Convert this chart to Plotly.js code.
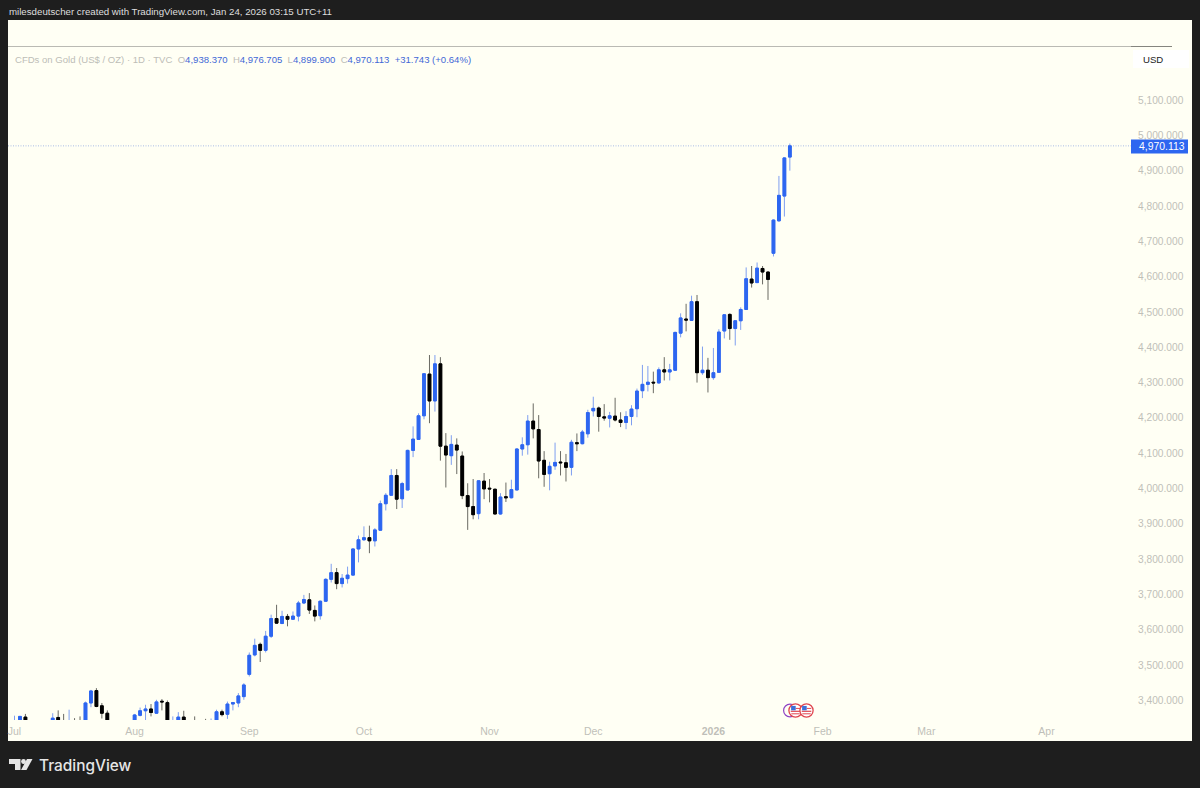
<!DOCTYPE html>
<html><head><meta charset="utf-8">
<script src="https://cdn.plot.ly/plotly-3.0.1.min.js"></script>
<style>html,body{margin:0;padding:0;background:#1e1e1e}#c{width:1200px;height:788px}</style>
</head><body><div id="c"></div>
<script>
const opens = [
3335,3340,3353,null,null,null,null,3340,3352,3340,3335,3335,3335,3340,3393,3428,3385,3364,null,null,null,null,
3340,3358,3371,3376,3364,3398,3394,3335,3340,3353,null,3340,null,3340,3335,3342,3368,3361,3390,3393,3411,
3474,3529,3559,3542,3582,3632,3618,3638,3630,3639,
3676,3685,3655,3640,3681,3743,3762,3731,3745,3755,
3829,3855,3861,3852,3882,3957,3981,4037,3971,3996,
4108,4139,4206,4324,4248,4353,4120,4093,4123,4092,
3980,3949,3929,4021,4001,3998,3928,3977,3974,3996,
4112,4124,4191,4167,4080,4042,4064,4075,4073,4060,
4130,4127,4155,4220,4228,4203,4199,4205,4194,4187,
4204,4226,4277,4295,4301,4299,4336,4330,4335,4440,
4480,4476,4529,4328,4335,4314,4329,4446,4493,4453,
4475,4507,4593,4583,4623,4613,4666,4758,4828,4938.37];
const highs = [
3357,3356,3362,null,null,null,null,3364,3372,3362,3374,3350,3355,3397,3430,3435,3393,3372,null,null,null,null,
3362,3380,3388,3390,3402,3404,3400,3355,3367,3371,null,3355,null,3348,3349,3374,3374,3397,3396,3421,3449,
3536,3575,3564,3597,3643,3671,3654,3645,3652,3682,
3699,3704,3669,3683,3746,3787,3775,3758,3779,3831,
3867,3893,3895,3888,3966,3987,4055,4055,4019,4110,
4176,4213,4327,4378,4378,4372,4157,4151,4142,4105,
4015,4027,4024,4044,4027,4000,3987,4017,4025,4114,
4145,4208,4241,4208,4106,4076,4130,4106,4098,4138,
4156,4166,4223,4260,4232,4239,4217,4257,4216,4219,
4236,4283,4350,4347,4331,4343,4372,4353,4444,4496,
4523,4546,4548,4402,4370,4398,4451,4494,4496,4477,
4513,4626,4630,4640,4630,4614,4762,4885,4938,4976.705];
const lows = [
3325,3330,3330,null,null,null,null,3330,3330,3325,3325,3325,3320,3330,3381,3381,3349,3330,null,null,null,null,
3330,3355,3340,3355,3362,3372,3335,3325,3330,3330,null,3325,null,3330,3330,3335,3355,3348,3372,3381,3402,
3468,3525,3509,3536,3577,3618,3616,3610,3628,3624,
3673,3645,3624,3629,3680,3734,3715,3720,3731,3753,
3791,3852,3817,3836,3881,3938,3980,3942,3945,3995,
4089,4138,4196,4185,4218,4079,4003,4067,4041,3970,
3883,3913,3913,3970,3961,3927,3926,3962,3972,3995,
4093,4096,4142,4029,4005,3995,4053,4037,4020,4037,
4106,4125,4144,4204,4161,4192,4173,4190,4174,4168,
4179,4202,4256,4275,4270,4297,4306,4306,4334,4428,
4445,4475,4300,4322,4272,4308,4328,4425,4421,4405,
4449,4506,4569,4582,4578,4534,4657,4755,4770,4899.9];
const closes = [
3340,3355,3340,null,null,null,null,3350,3340,3335,3340,3330,3330,3393,3427,3383,3364,3340,null,null,null,null,
3359,3371,3376,3366,3396,3396,3340,3340,3353,3340,null,3330,null,3335,3340,3368,3360,3390,3394,3413,3444,
3528,3556,3542,3582,3632,3619,3638,3630,3639,3676,
3686,3656,3639,3681,3743,3762,3731,3746,3755,3829,
3855,3861,3852,3883,3957,3981,4037,3970,4014,4108,
4140,4206,4325,4248,4353,4120,4095,4125,4109,3980,
3949,3926,4022,3999,3999,3928,3976,3974,3997,4112,
4124,4191,4169,4078,4040,4063,4074,4073,4060,4131,
4127,4160,4215,4227,4204,4200,4206,4194,4187,4204,
4225,4276,4295,4301,4299,4336,4330,4336,4442,4483,
4477,4529,4328,4335,4314,4328,4443,4492,4453,4475,
4507,4594,4582,4624,4613,4592,4760,4830,4936,4970.113];
const priceTicks = [3400,3500,3600,3700,3800,3900,4000,4100,4200,4300,4400,4500,4600,4700,4800,4900,5000,5100];
const timeTickIndex = [0,22,43,64,87,106,128,148,167,189];
const timeTickLabels = ['Jul','Aug','Sep','Oct','Nov','Dec','<b>2026</b>','Feb','Mar','Apr'];
const lastPrice = 4970.113;

const BLUE = '#2d66f0', BLACK = '#000000', CREAM = '#fffff4', DARK = '#1e1e1e', GREY = '#bfbfb9';
const FONT = '"Liberation Sans", Arial, sans-serif';
const PL = 8, PR = 1131, PT = 47, PB = 720;
const fx = x => (x - PL) / (PR - PL);
const fy = y => (PB - y) / (PB - PT);
const idx = opens.map((_, i) => i);
const bodyHi = opens.map((o, i) => o === null ? null : Math.max(o, closes[i]));
const bodyLo = opens.map((o, i) => o === null ? null : Math.min(o, closes[i]));

const wickTrace = {
  type: 'candlestick', x: idx, open: opens, high: highs, low: lows, close: closes,
  whiskerwidth: 0, hoverinfo: 'skip', showlegend: false,
  increasing: {line: {color: '#7f9ff0', width: 1}, fillcolor: BLUE},
  decreasing: {line: {color: '#6a6a63', width: 1}, fillcolor: BLACK}
};
const bodyTrace = {
  type: 'candlestick', x: idx, open: opens, high: bodyHi, low: bodyLo, close: closes,
  whiskerwidth: 0, hoverinfo: 'skip', showlegend: false,
  increasing: {line: {color: BLUE, width: 1}, fillcolor: BLUE},
  decreasing: {line: {color: BLACK, width: 1}, fillcolor: BLACK}
};

function rect(x0, y0, x1, y1, fill, layer) {
  return {type: 'rect', xref: 'paper', yref: 'paper', x0: fx(x0), x1: fx(x1), y0: fy(y0), y1: fy(y1),
          fillcolor: fill, line: {width: 0}, layer: layer || 'above'};
}
function hline(x0, x1, y, color, w) {
  return {type: 'line', xref: 'paper', yref: 'paper', x0: fx(x0), x1: fx(x1), y0: fy(y), y1: fy(y),
          line: {color, width: w}, layer: 'above'};
}
function circle(cx, cy, r, fill, stroke, w) {
  return {type: 'circle', xref: 'paper', yref: 'paper', x0: fx(cx - r), x1: fx(cx + r), y0: fy(cy - r), y1: fy(cy + r),
          fillcolor: fill, line: {color: stroke, width: w}, layer: 'above'};
}
function poly(pts, fill) {
  const d = pts.map((p, i) => (i ? 'L' : 'M') + fx(p[0]) + ',' + fy(p[1])).join(' ') + ' Z';
  return {type: 'path', xref: 'paper', yref: 'paper', path: d, fillcolor: fill, line: {width: 0}, layer: 'above'};
}
function flag(cx, cy) {
  return [
    circle(cx, cy, 6.6, '#ffffff', '#e0464f', 1.3),
    rect(cx - 4.8, cy + 0.2, cx + 4.8, cy + 1.4, '#e0464f'),
    rect(cx - 4.2, cy + 2.8, cx + 4.2, cy + 3.8, '#e0464f'),
    rect(cx + 0.2, cy - 2.6, cx + 4.8, cy - 1.6, '#e0464f'),
    rect(cx - 4.4, cy - 4.6, cx + 0.2, cy - 0.2, '#3d6fd8')
  ];
}
const shapes = [
  rect(8, 20, 1192, 741, CREAM, 'below'),
  hline(8, 1131, 46.5, '#a8a8a2', 0.8),
  hline(1131, 1172, 46.5, '#66665f', 0.8),
  {type: 'line', xref: 'paper', yref: 'y', x0: 0, x1: 1, y0: lastPrice, y1: lastPrice,
   line: {color: '#a9bce6', width: 1, dash: '1px,1.5px'}, layer: 'below'},
  rect(1131, 139.5, 1188, 153.5, BLUE),
  rect(1133, 50, 1189, 68, '#ffffff'),
  circle(790, 710.5, 6.4, 'rgba(0,0,0,0)', '#8e44c4', 1.2),
  ...flag(795.5, 710.5),
  ...flag(806.5, 710.5),
  poly([[9,759],[20.5,759],[20.5,770],[15,770],[15,764],[9,764]], '#e6e6e6'),
  circle(23.5, 761.5, 2.4, '#e6e6e6', '#e6e6e6', 0),
  poly([[27,759],[32.5,759],[26.5,770],[21,770]], '#e6e6e6')
];
const ann = (x, y, text, size, color, anchor) => ({
  xref: 'paper', yref: 'paper', x: fx(x), y: fy(y), text, showarrow: false,
  xanchor: anchor || 'left', yanchor: 'middle', align: 'left',
  font: {family: FONT, size, color}, borderpad: 0
});
const LG = '#bdbdb7', LB = '#3f68d6';
const sp = (c, t) => `<span style="color:${c}">${t}</span>`;
const legendText = sp(LG, 'CFDs on Gold (US$ / OZ) · 1D · TVC&nbsp;&nbsp;O') + sp(LB, '4,938.370') +
  sp(LG, '&nbsp;&nbsp;H') + sp(LB, '4,976.705') + sp(LG, '&nbsp;&nbsp;L') + sp(LB, '4,899.900') +
  sp(LG, '&nbsp;&nbsp;C') + sp(LB, '4,970.113&nbsp;&nbsp;+31.743 (+0.64%)');
const annotations = [
  ann(8, 12, 'milesdeutscher created with TradingView.com, Jan 24, 2026 03:15 UTC+11', 9.7, '#dedede'),
  ann(14, 59, legendText, 9.55, LG),
  ann(1142, 59, 'USD', 9.6, '#222222'),
  ann(1138, 146.5, '4,970.113', 10.4, '#ffffff'),
  ann(37.5, 765, 'TradingView', 15.4, '#e6e6e6')
];
annotations[4].font.family = 'Inter, "Liberation Sans", sans-serif';
annotations[4].font.weight = 500;

const layout = {
  width: 1200, height: 788, autosize: false,
  margin: {l: PL, r: 1200 - PR, t: PT, b: 788 - PB, pad: 0},
  paper_bgcolor: DARK, plot_bgcolor: 'rgba(0,0,0,0)',
  showlegend: false, boxmode: 'overlay', boxgap: 0.28, hovermode: false, dragmode: false,
  font: {family: FONT, color: GREY},
  xaxis: {
    range: [-1.19, 204.48], rangeslider: {visible: false}, showgrid: false, zeroline: false, showline: false,
    tickmode: 'array', tickvals: timeTickIndex, ticktext: timeTickLabels, ticks: '', ticklabelstandoff: 3,
    tickfont: {family: FONT, size: 10.5, color: GREY}
  },
  yaxis: {
    range: [3344.8, 5250], side: 'right', showgrid: false, zeroline: false, showline: false,
    tickmode: 'array', tickvals: priceTicks, ticks: '', tickformat: ',.3f', ticklabelstandoff: 6,
    tickfont: {family: FONT, size: 10.2, color: GREY}
  },
  shapes, annotations
};
Plotly.newPlot('c', [wickTrace, bodyTrace], layout, {displayModeBar: false, staticPlot: true});
</script>
</body></html>
